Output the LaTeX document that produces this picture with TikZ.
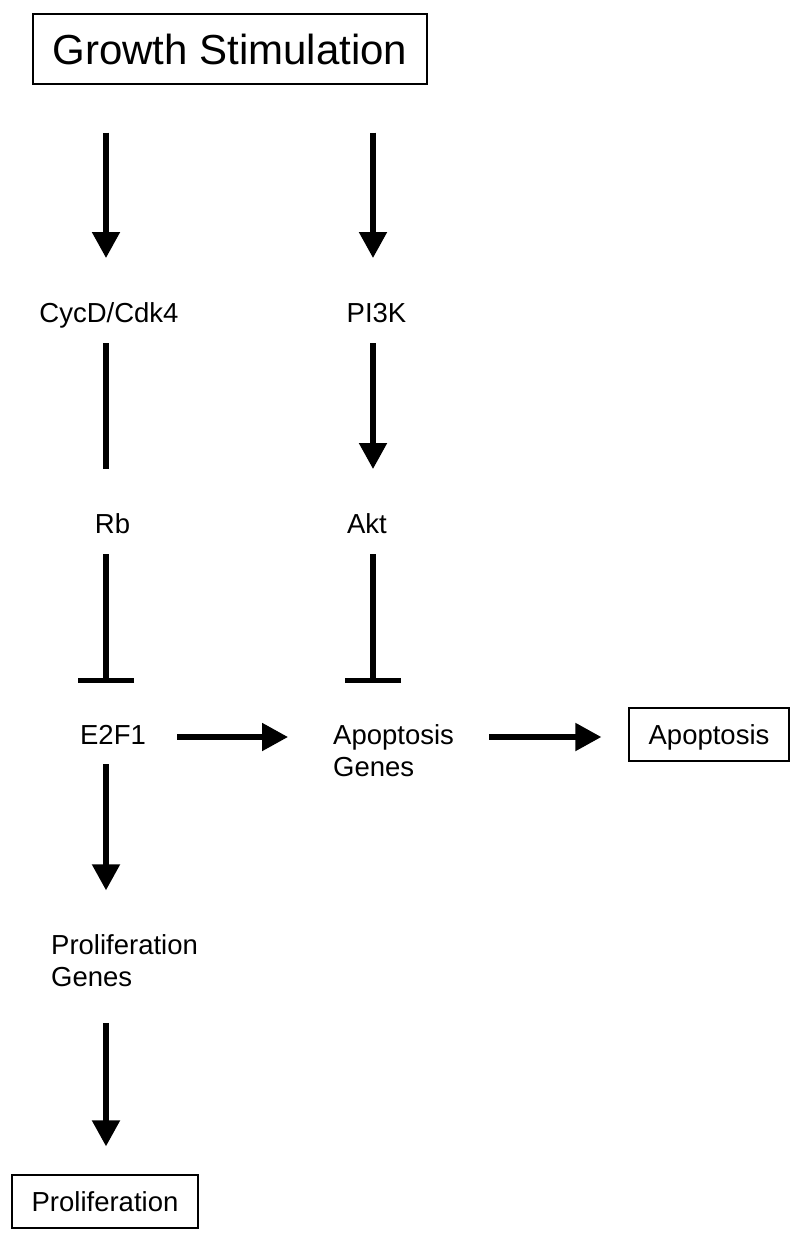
\documentclass[tikz,border=0pt]{standalone}
\usepackage{fontspec}
\setmainfont{Liberation Sans}
\usetikzlibrary{arrows.meta,calc}
\tikzset{
  lbl/.style={inner sep=0pt, font=\fontsize{27.5}{32}\selectfont},
  boxnode/.style={draw, line width=1.3pt, inner sep=0pt, text height=19.7pt, text depth=0pt, font=\fontsize{27.5}{32}\selectfont},
  conn/.style={line width=5.2pt},
  arr/.style={conn, -{Triangle[length=26pt,width=27pt]}},
  inhib/.style={conn, -{Bar[width=56pt]}}
}
\begin{document}
\begin{tikzpicture}[x=1pt,y=1pt]
\useasboundingbox (0,0) rectangle (800,-1240);
\coordinate (colL) at (106,0);
\coordinate (colR) at (373,0);

\node[draw, line width=1.3pt, inner sep=0pt, minimum width=394pt, minimum height=70pt,
      font=\fontsize{42}{50}\selectfont] (gs) at (230,-49) {Growth Stimulation};

\node[lbl, anchor=base] (cyc) at (109,-322) {CycD/Cdk4};
\node[lbl, anchor=base] (pi) at (376.5,-322) {PI3K};
\node[lbl, anchor=base] (rb) at (112.5,-533) {Rb};
\node[lbl, anchor=base] (akt) at (367,-533) {Akt};
\node[lbl, anchor=base] (e2f) at (113,-744) {E2F1};
\node[lbl, anchor=north west, align=left] (ag) at (333,-724.3) {Apoptosis\\Genes};
\node[lbl, anchor=north west, align=left] (pg) at (51,-934.3) {Proliferation\\Genes};
\node[boxnode, minimum width=160pt, minimum height=53pt] (apo) at (709,-734.5) {Apoptosis};
\node[boxnode, minimum width=186pt, minimum height=53pt] (prol) at (105,-1201.5) {Proliferation};

\draw[arr] ($(gs.south -| colL)+(0,-48)$) -- ($(cyc.base -| colL)+(0,64)$);
\draw[arr] ($(gs.south -| colR)+(0,-48)$) -- ($(pi.base -| colR)+(0,64)$);
\draw[conn] ($(cyc.base -| colL)+(0,-21)$) -- ($(rb.base -| colL)+(0,64)$);
\draw[arr] ($(pi.base -| colR)+(0,-21)$) -- ($(akt.base -| colR)+(0,64)$);
\draw[inhib] ($(rb.base -| colL)+(0,-21)$) -- ($(e2f.base -| colL)+(0,61)$);
\draw[inhib] ($(akt.base -| colR)+(0,-21)$) -- ($(ag.north -| colR)+(0,41.3)$);
\draw[arr] ($(e2f.base east)+(31,7)$) -- ($(ag.west |- e2f.base)+(-45,7)$);
\draw[arr] ($(ag.east |- e2f.base)+(35,7)$) -- ($(apo.west |- e2f.base)+(-27,7)$);
\draw[arr] ($(e2f.base -| colL)+(0,-20)$) -- ($(pg.north -| colL)+(0,44)$);
\draw[arr] ($(pg.south -| colL)+(0,-36)$) -- ($(prol.north -| colL)+(0,28)$);
\end{tikzpicture}
\end{document}
